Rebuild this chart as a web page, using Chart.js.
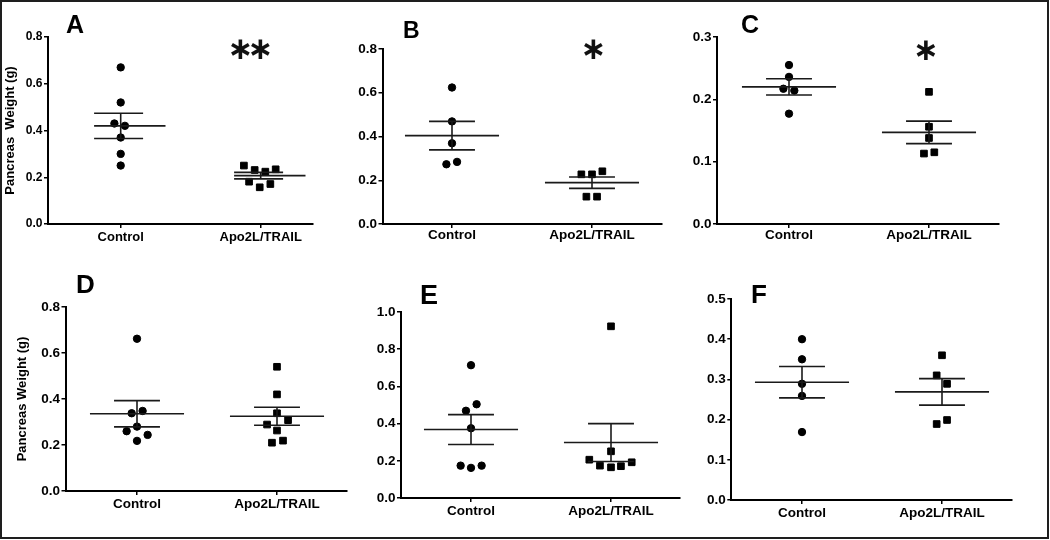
<!DOCTYPE html>
<html lang="en">
<head>
    <meta charset="UTF-8">
    <title>Pancreas Weight</title>
    <script src="https://cdn.jsdelivr.net/npm/chart.js"></script>
    <style>
        html, body { margin: 0; padding: 0; background: #fff; }
        body { width: 1050px; height: 540px; position: relative; overflow: hidden;
               font-family: "Liberation Sans", Arial, sans-serif; }
        .frame { position: absolute; left: 0; top: 0; width: 1049px; height: 539px;
                 border: 2px solid #1e1e1e; box-sizing: border-box; }
        canvas { position: absolute; }
        .letter { position: absolute; font-weight: bold; line-height: 1; color: #000; }
        .star { position: absolute; font-family: "DejaVu Sans", sans-serif; font-size: 31px; font-weight: bold;
                line-height: 1; color: #111; transform: translateX(-50%); }
    </style>
</head>
<body>
    <div class="frame"></div>

    <script>
        // Categories shared by every panel
        const categories = ['Control', 'Apo2L/TRAIL'];

        // Panel A
        const aControl = [0.67, 0.52, 0.43, 0.42, 0.37, 0.30, 0.25];
        const aControlJitter = [0, 0, -0.045, 0.03, 0, 0, 0];
        const aTrail = [0.25, 0.231, 0.224, 0.234, 0.181, 0.157, 0.171];
        const aTrailJitter = [-0.12, -0.043, 0.033, 0.107, -0.083, -0.007, 0.069];
        const aMean = [0.42, 0.207];
        const aSem = [0.054, 0.014];

        // Panel B
        const bControl = [0.624, 0.469, 0.369, 0.284, 0.273];
        const bControlJitter = [0, 0, 0, 0.036, -0.04];
        const bTrail = [0.227, 0.227, 0.241, 0.125, 0.125];
        const bTrailJitter = [-0.076, 0, 0.074, -0.04, 0.036];
        const bMean = [0.404, 0.189];
        const bSem = [0.065, 0.026];

        // Panel C
        const cControl = [0.255, 0.236, 0.217, 0.214, 0.177];
        const cControlJitter = [0, 0, -0.04, 0.038, 0];
        const cTrail = [0.212, 0.156, 0.138, 0.113, 0.115];
        const cTrailJitter = [0, 0, 0, -0.036, 0.038];
        const cMean = [0.220, 0.147];
        const cSem = [0.013, 0.018];

        // Panel D
        const dControl = [0.662, 0.348, 0.338, 0.280, 0.260, 0.244, 0.218];
        const dControlJitter = [0, 0.04, -0.038, 0, -0.074, 0.076, 0];
        const dTrail = [0.540, 0.420, 0.338, 0.308, 0.289, 0.263, 0.219, 0.210];
        const dTrailJitter = [0, 0, 0, 0.079, -0.071, 0, 0.043, -0.036];
        const dMean = [0.336, 0.325];
        const dSem = [0.057, 0.039];

        // Panel E
        const eControl = [0.714, 0.504, 0.469, 0.375, 0.174, 0.162, 0.174];
        const eControlJitter = [0, 0.04, -0.036, 0, -0.074, 0, 0.076];
        const eTrail = [0.923, 0.251, 0.206, 0.192, 0.174, 0.165, 0.171];
        const eTrailJitter = [0, 0, -0.155, 0.148, -0.079, 0, 0.071];
        const eMean = [0.368, 0.298];
        const eSem = [0.08, 0.102];

        // Panel F
        const fControl = [0.40, 0.35, 0.289, 0.259, 0.169];
        const fControlJitter = [0, 0, 0, 0, 0];
        const fTrail = [0.36, 0.31, 0.289, 0.199, 0.189];
        const fTrailJitter = [0, -0.038, 0.036, 0.036, -0.038];
        const fMean = [0.293, 0.269];
        const fSem = [0.039, 0.033];

        // y axis ranges (max, step)
        const yMaxes = [0.8, 0.8, 0.3, 0.8, 1.0, 0.5];
        const ySteps = [0.2, 0.2, 0.1, 0.2, 0.2, 0.1];

        const FONT = '"Liberation Sans", Arial, sans-serif';
        const CAT_PX = 140; // distance between the two groups

        // layout of each panel (axis position in page pixels)
        const panels = [
            { letter: 'A', control: aControl, cj: aControlJitter, trail: aTrail, tj: aTrailJitter, mean: aMean, sem: aSem,
              axisX: 48, top: 37, bottom: 224, xEnd: 313, cx: 120.7, canvasLeft: 0, title: 'Pancreas  Weight (g)',
              tickSize: 12, labelSize: 13, labelPad: 2, meanSpan: [-0.19, 0.32], semSpan: [-0.19, 0.16] },
            { letter: 'B', control: bControl, cj: bControlJitter, trail: bTrail, tj: bTrailJitter, mean: bMean, sem: bSem,
              axisX: 382.5, top: 49, bottom: 224, xEnd: 662, cx: 452, canvasLeft: 342,
              tickSize: 13.5, labelSize: 13.5, labelPad: -1 },
            { letter: 'C', control: cControl, cj: cControlJitter, trail: cTrail, tj: cTrailJitter, mean: cMean, sem: cSem,
              axisX: 717, top: 37, bottom: 224, xEnd: 999, cx: 789, canvasLeft: 677,
              tickSize: 13.5, labelSize: 13.5, labelPad: -1 },
            { letter: 'D', control: dControl, cj: dControlJitter, trail: dTrail, tj: dTrailJitter, mean: dMean, sem: dSem,
              axisX: 65.5, top: 307, bottom: 491, xEnd: 347, cx: 137, canvasLeft: 12, title: 'Pancreas Weight (g)',
              tickSize: 13.5, labelSize: 13.5, labelPad: 1 },
            { letter: 'E', control: eControl, cj: eControlJitter, trail: eTrail, tj: eTrailJitter, mean: eMean, sem: eSem,
              axisX: 401, top: 312, bottom: 498, xEnd: 680, cx: 471, canvasLeft: 361,
              tickSize: 13.5, labelSize: 13.5, labelPad: 1 },
            { letter: 'F', control: fControl, cj: fControlJitter, trail: fTrail, tj: fTrailJitter, mean: fMean, sem: fSem,
              axisX: 731.3, top: 299, bottom: 500, xEnd: 1012, cx: 802, canvasLeft: 691,
              tickSize: 13.5, labelSize: 13.5, labelPad: 1.5 }
        ];

        // panel letters: [left, top, size]
        const letterPos = [[66, 12, 25], [403, 19, 23], [741, 12, 25], [76, 271, 26], [420, 282, 27], [751, 281, 26]];
        // significance stars: [centerX, top]
        const starPos = [[240.5, 33], [260.5, 33], [593.5, 33], [926, 34]];

        function segment(points) {
            return {
                data: points, showLine: true, pointRadius: 0, borderColor: '#1a1a1a',
                borderWidth: 1.6, fill: false
            };
        }

        function buildPanel(p, idx) {
            const padTop = 14, padRight = 12, xAxisH = 32;
            const wY = p.axisX - p.canvasLeft;
            const width = Math.round(p.xEnd + padRight - p.canvasLeft);
            const height = Math.round(p.bottom + xAxisH - (p.top - padTop));

            const canvas = document.createElement('canvas');
            canvas.width = width;
            canvas.height = height;
            canvas.style.left = p.canvasLeft + 'px';
            canvas.style.top = (p.top - padTop) + 'px';
            canvas.style.width = width + 'px';
            canvas.style.height = height + 'px';
            document.body.appendChild(canvas);

            const meanSpan = p.meanSpan || [-0.336, 0.336];
            const semSpan = p.semSpan || [-0.164, 0.164];

            const groups = [
                { values: p.control, jitter: p.cj, style: 'circle', radius: 3.7 },
                { values: p.trail, jitter: p.tj, style: 'rect', radius: 4.7 }
            ];

            const datasets = [];
            groups.forEach((g, i) => {
                const m = p.mean[i], s = p.sem[i];
                datasets.push(segment([{ x: i + meanSpan[0], y: m }, { x: i + meanSpan[1], y: m }]));
                datasets.push(segment([{ x: i + semSpan[0], y: m + s }, { x: i + semSpan[1], y: m + s }]));
                datasets.push(segment([{ x: i + semSpan[0], y: m - s }, { x: i + semSpan[1], y: m - s }]));
                datasets.push(segment([{ x: i, y: m - s }, { x: i, y: m + s }]));
                datasets.push({
                    data: g.values.map((v, k) => ({ x: i + g.jitter[k], y: v })),
                    showLine: false,
                    pointStyle: g.style,
                    pointRadius: g.radius,
                    backgroundColor: '#000',
                    borderColor: '#000',
                    borderWidth: 1
                });
            });

            new Chart(canvas.getContext('2d'), {
                type: 'scatter',
                data: { datasets: datasets },
                options: {
                    responsive: false,
                    animation: false,
                    devicePixelRatio: 1,
                    layout: { padding: { top: padTop, right: padRight, left: 0, bottom: 0 } },
                    plugins: { legend: { display: false }, tooltip: { enabled: false } },
                    scales: {
                        x: {
                            type: 'linear',
                            min: (p.axisX - p.cx) / CAT_PX,
                            max: (p.xEnd - p.cx) / CAT_PX,
                            afterBuildTicks: s => { s.ticks = [{ value: 0 }, { value: 1 }]; },
                            afterFit: s => { s.height = xAxisH; },
                            grid: { display: true, drawOnChartArea: false, drawTicks: true, tickLength: 4, color: '#000', lineWidth: 1.5 },
                            border: { display: true, color: '#000', width: 2 },
                            ticks: {
                                callback: v => categories[v],
                                color: '#000',
                                font: { family: FONT, weight: 'bold', size: p.labelSize },
                                padding: p.labelPad,
                                maxRotation: 0,
                                autoSkip: false
                            }
                        },
                        y: {
                            min: 0,
                            max: yMaxes[idx],
                            afterFit: s => { s.width = wY; },
                            grid: { display: true, drawOnChartArea: false, drawTicks: true, tickLength: 4, color: '#000', lineWidth: 1.5 },
                            border: { display: true, color: '#000', width: 2 },
                            ticks: {
                                stepSize: ySteps[idx],
                                callback: v => v.toFixed(1),
                                color: '#000',
                                font: { family: FONT, weight: 'bold', size: p.tickSize },
                                padding: 1.5
                            },
                            title: {
                                display: !!p.title,
                                text: p.title || '',
                                color: '#000',
                                font: { family: FONT, weight: 'bold', size: 13 },
                                padding: { top: 3, bottom: 0 }
                            }
                        }
                    }
                }
            });
        }

        panels.forEach(buildPanel);

        // panel letters
        panels.forEach((p, i) => {
            const d = document.createElement('div');
            d.className = 'letter';
            d.textContent = p.letter;
            d.style.left = letterPos[i][0] + 'px';
            d.style.top = letterPos[i][1] + 'px';
            d.style.fontSize = letterPos[i][2] + 'px';
            document.body.appendChild(d);
        });

        // significance marks
        starPos.forEach(s => {
            const d = document.createElement('div');
            d.className = 'star';
            d.textContent = '\u2217';
            d.style.left = s[0] + 'px';
            d.style.top = s[1] + 'px';
            document.body.appendChild(d);
        });
    </script>
</body>
</html>
